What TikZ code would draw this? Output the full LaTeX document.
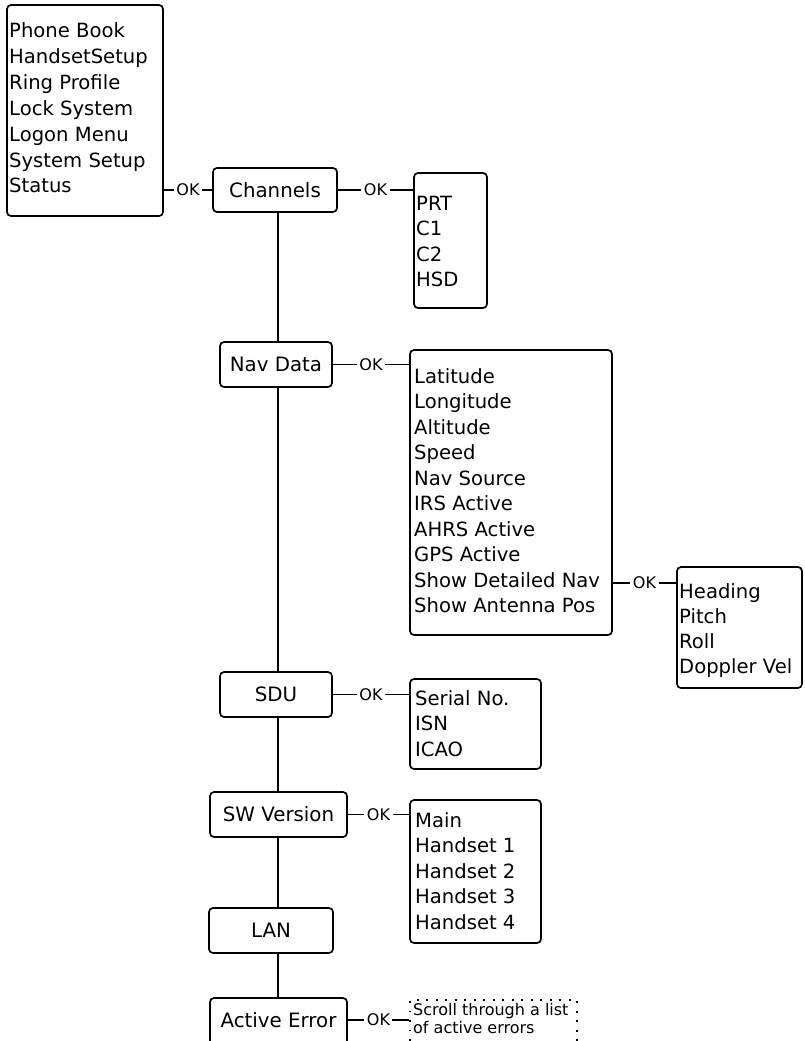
\documentclass[tikz,border=0pt]{standalone}
\usepackage{fontspec}
\setmainfont{DejaVu Sans}
\usetikzlibrary{calc}
\tikzset{
  box/.style={draw, line width=1.7pt, rounded corners=4pt, inner sep=0pt},
  dotbox/.style={draw, line width=1.9pt, dash pattern=on 1.9pt off 7.6pt, inner sep=0pt},
  lbl/.style={font=\fontsize{19.8}{23}\selectfont},
  item/.style={anchor=base west, inner sep=0pt, font=\fontsize{19.6}{23}\selectfont},
  small/.style={anchor=base west, inner sep=0pt, font=\fontsize{16}{18}\selectfont},
  conn/.style={line width=1.8pt},
  ok/.style={fill=white, inner xsep=2.5pt, inner ysep=1pt, font=\fontsize{16}{18}\selectfont},
}
\begin{document}
\begin{tikzpicture}[x=1pt,y=-1pt]
\useasboundingbox (0,0) rectangle (804,1041);
\clip (0,0) rectangle (804,1041);

% boxes
\node[box, minimum width=156pt, minimum height=211pt] (menu) at (85,110.5) {};
\node[box, lbl, minimum width=124pt, minimum height=44pt] (chan) at (275,190) {Channels};
\node[box, minimum width=73pt, minimum height=135pt] (prt) at (450.5,240.5) {};
\node[box, lbl, minimum width=112pt, minimum height=45pt] (nav) at (276,364.5) {Nav Data};
\node[box, minimum width=202pt, minimum height=285pt] (navlist) at (511,492.5) {};
\node[box, minimum width=125pt, minimum height=121pt] (head) at (739.5,627.5) {};
\node[box, lbl, minimum width=112pt, minimum height=45pt] (sdu) at (276,694.5) {SDU};
\node[box, minimum width=131pt, minimum height=90pt] (serial) at (475.5,724) {};
\node[box, lbl, minimum width=137pt, minimum height=45pt] (sw) at (278.5,814.5) {SW Version};
\node[box, minimum width=131pt, minimum height=143pt] (main) at (475.5,871.5) {};
\node[box, lbl, minimum width=124pt, minimum height=45pt] (lan) at (271,930.5) {LAN};
\node[box, minimum width=137pt, minimum height=47pt] (err) at (278.5,1021.5) {};
\node[lbl, inner sep=0pt] (errtxt) at (278.5,1020) {Active Error};
\node[dotbox, minimum width=167pt, minimum height=45pt] (scroll) at (493.5,1022.5) {};

% list texts
\foreach \t [count=\i] in {Phone Book, HandsetSetup, Ring Profile, Lock System, Logon Menu, System Setup, Status}
  \node[item] (menu\i) at (9,{38+(\i-1)*25.8}) {\t};
\foreach \t [count=\i] in {PRT, C1, C2, HSD}
  \node[item] (prt\i) at (416,{210+(\i-1)*25.6}) {\t};
\foreach \t [count=\i] in {Latitude, Longitude, Altitude, Speed, Nav Source, IRS Active, AHRS Active, GPS Active, Show Detailed Nav, Show Antenna Pos}
  \node[item] (nl\i) at (414,{383+(\i-1)*25.5}) {\t};
\foreach \t [count=\i] in {Heading, Pitch, Roll, Doppler Vel}
  \node[item] (hd\i) at (679,{598+(\i-1)*25}) {\t};
\foreach \t [count=\i] in {Serial No., ISN, ICAO}
  \node[item] (sn\i) at (415,{705+(\i-1)*25.6}) {\t};
\foreach \t [count=\i] in {Main, Handset 1, Handset 2, Handset 3, Handset 4}
  \node[item] (mn\i) at (415,{827+(\i-1)*25.6}) {\t};
\node[small] (sc1) at (413,1015) {Scroll through a list};
\node[small] (sc2) at (413,1033) {of active errors};

% vertical spine
\coordinate (spine) at (278,0);
\draw[conn] (chan.south -| spine) -- (nav.north -| spine);
\draw[conn] (nav.south -| spine) -- (sdu.north -| spine);
\draw[conn] (sdu.south -| spine) -- (sw.north -| spine);
\draw[conn] (sw.south -| spine) -- (lan.north -| spine);
\draw[conn] (lan.south -| spine) -- (err.north -| spine);

% OK connectors
\draw[conn] (menu.east |- chan.west) -- node[ok] (ok1) {OK} (chan.west);
\draw[conn] (chan.east) -- node[ok] (ok2) {OK} (chan.east -| prt.west);
\draw[conn] (nav.east) -- node[ok] (ok3) {OK} (nav.east -| navlist.west);
\coordinate (detail) at (645,583);
\draw[conn] (navlist.east |- detail) -- node[ok] (ok4) {OK} (head.west |- detail);
\draw[conn] (sdu.east) -- node[ok] (ok5) {OK} (sdu.east -| serial.west);
\draw[conn] (sw.east) -- node[ok] (ok6) {OK} (sw.east -| main.west);
\coordinate (errline) at (380,1020);
\draw[conn] (err.east |- errline) -- node[ok] (ok7) {OK} (scroll.west |- errline);
\end{tikzpicture}
\end{document}
